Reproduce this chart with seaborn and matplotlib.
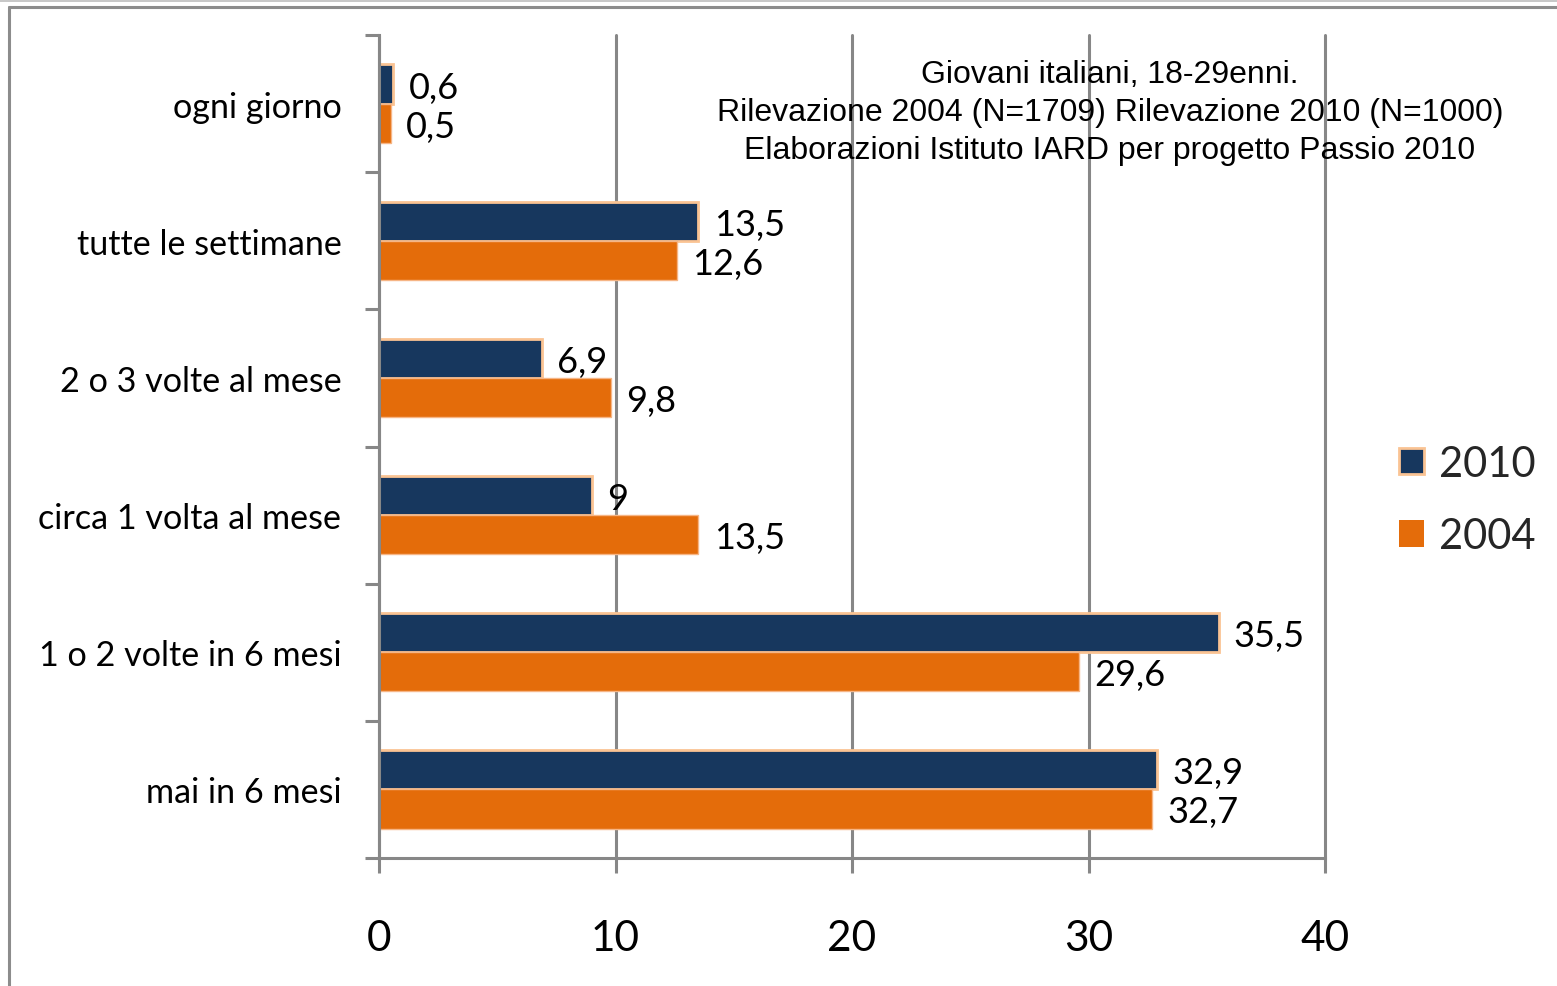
import matplotlib
matplotlib.use("Agg")
import matplotlib.pyplot as plt
import seaborn as sns
import pandas as pd
from matplotlib.patches import Patch, Rectangle
from matplotlib.lines import Line2D

# Frequency categories and percentages by survey year
categorie = ["ogni giorno", "tutte le settimane", "2 o 3 volte al mese",
             "circa 1 volta al mese", "1 o 2 volte in 6 mesi", "mai in 6 mesi"]
valori_2010 = [0.6, 13.5, 6.9, 9, 35.5, 32.9]
valori_2004 = [0.5, 12.6, 9.8, 13.5, 29.6, 32.7]
anni = ["2010", "2004"]
x_ticks = [0, 10, 20, 30, 40]
nota = ("Giovani italiani, 18-29enni.\n"
        "Rilevazione 2004 (N=1709) Rilevazione 2010 (N=1000)\n"
        "Elaborazioni Istituto IARD per progetto Passio 2010")

df = pd.DataFrame({
    "categoria": categorie * 2,
    "valore": valori_2010 + valori_2004,
    "anno": [anni[0]] * len(categorie) + [anni[1]] * len(categorie),
})

sns.set_theme(style="white")
plt.rcParams["font.family"] = ["Lato", "DejaVu Sans"]

NAVY = "#17375e"
ORANGE = "#e46c0a"
GRAY = "#878787"

fig = plt.figure(figsize=(15.57, 9.87), dpi=100)
ax = fig.add_axes([379 / 1557, 1 - 859 / 987, (1325 - 379) / 1557, (859 - 36) / 987])

sns.barplot(data=df, y="categoria", x="valore", hue="anno", hue_order=anni,
            order=categorie, palette=[NAVY, ORANGE], width=0.57,
            orient="h", ax=ax, legend=False, saturation=1)

edge_cols = ["#fac393", "#f6b585"]
edge_lw = [2.0, 1.0]
for cont, ec, lw in zip(ax.containers, edge_cols, edge_lw):
    for bar in cont:
        bar.set_edgecolor(ec)
        bar.set_linewidth(lw)

# Value labels with Italian decimal comma
for cont, vals in zip(ax.containers, [valori_2010, valori_2004]):
    texts = ax.bar_label(cont, labels=[f"{v:g}".replace(".", ",") for v in vals],
                         padding=11, fontsize=26, color="black")
    for t in texts:
        t.set_verticalalignment("center_baseline")

ax.set_xlim(0, 40)
ax.set_ylim(len(categorie) - 0.5, -0.5)
ax.set_xticks(x_ticks)
ax.set_xticklabels([str(t) for t in x_ticks], fontsize=30.5)
ax.set_xlabel("")
ax.set_ylabel("")

# Category boundaries carry the tick marks; labels sit at centres
ax.set_yticks(range(len(categorie)))
ax.set_yticklabels(categorie, fontsize=24.6)
ax.set_yticks([i - 0.5 for i in range(len(categorie) + 1)], minor=True)
ax.tick_params(axis="y", which="major", length=0, pad=27, colors="black")
ax.tick_params(axis="y", which="minor", left=True, length=10, width=2.2, color=GRAY)
ax.tick_params(axis="x", which="major", bottom=True, length=11, width=2.2,
               color=GRAY, pad=33, labelcolor="black")

ax.grid(axis="x", color=GRAY, linewidth=2.2)
ax.grid(axis="y", visible=False)
ax.set_axisbelow(True)
for gl in ax.get_xgridlines():
    gl.set_clip_on(False)

for side in ["top", "right"]:
    ax.spines[side].set_visible(False)
for side in ["left", "bottom"]:
    ax.spines[side].set_color(GRAY)
    ax.spines[side].set_linewidth(2.2)

# Legend
handles = [Patch(facecolor=NAVY, edgecolor=edge_cols[0], linewidth=2),
           Patch(facecolor=ORANGE, edgecolor=ORANGE, linewidth=0)]
fig.legend(handles, anni, loc="center left",
           bbox_to_anchor=(1399 / 1557, 1 - 501 / 987), frameon=False,
           fontsize=30, handlelength=0.6, handleheight=0.6,
           handletextpad=0.35, labelspacing=0.83, borderpad=0, borderaxespad=0)

# Source note
fig.text(1110 / 1557, 1 - 113 / 987, nota, ha="center", va="center",
         fontsize=23, family=["Liberation Sans", "DejaVu Sans"],
         linespacing=1.33, color="black")

# Outer frame lines
fig.add_artist(Rectangle((0, 1 - 3 / 987), 1, 3 / 987, transform=fig.transFigure,
                         facecolor="#c8c8c8", edgecolor="none"))
fig.add_artist(Line2D([9 / 1557, 9 / 1557], [0, 1 - 8 / 987], transform=fig.transFigure,
                      color="#8c8c8c", linewidth=2.2))
fig.add_artist(Line2D([9 / 1557, 1], [1 - 8 / 987, 1 - 8 / 987], transform=fig.transFigure,
                      color="#8c8c8c", linewidth=2.2))

fig.savefig("out.png", dpi=100)
